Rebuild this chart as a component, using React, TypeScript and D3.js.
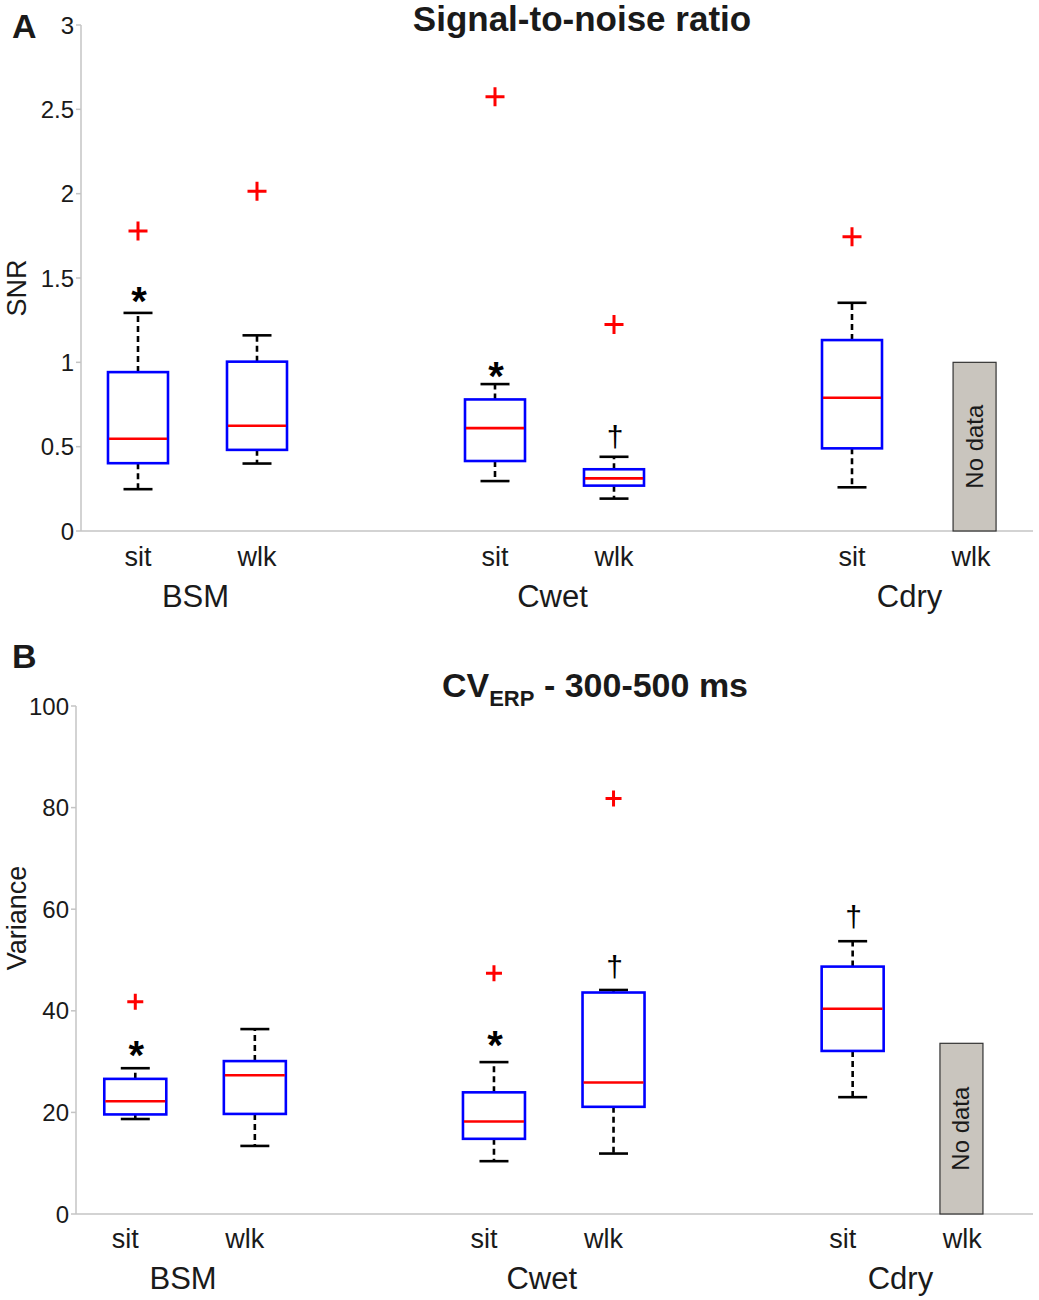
import React, { useEffect, useRef } from 'react';
import * as d3 from 'd3';

// x slots: 0,1 = BSM, 3,4 = Cwet, 6,7 = Cdry
const categories = ['sit', 'wlk', 'sit', 'wlk', 'sit', 'wlk'];
const categorySlots = [0, 1, 3, 4, 6, 7];
const groups = ['BSM', 'Cwet', 'Cdry'];
const groupSlots = [0.5, 3.5, 6.5];
const boxSlots = [0, 1, 3, 4, 6];

// Panel A - SNR
const snrLow = [0.248, 0.4, 0.296, 0.192, 0.259];
const snrQ1 = [0.402, 0.481, 0.415, 0.269, 0.49];
const snrMedian = [0.547, 0.624, 0.61, 0.312, 0.79];
const snrQ3 = [0.942, 1.004, 0.78, 0.366, 1.132];
const snrHigh = [1.293, 1.16, 0.871, 0.44, 1.353];
const snrOutliers = [1.778, 2.015, 2.574, 1.225, 1.745];
const snrMarks = ['*', '', '*', '†', ''];
const snrMarkValues = [1.41, 0, 0.966, 0.55, 0];
const snrNoData = 1.0;
const snrNoDataSlot = 7.03;
const snrTicks = [0, 0.5, 1, 1.5, 2, 2.5, 3];

// Panel B - CV ERP
const cvLow = [18.7, 13.4, 10.4, 11.9, 23.0];
const cvQ1 = [19.6, 19.7, 14.8, 21.1, 32.1];
const cvMedian = [22.2, 27.3, 18.2, 25.9, 40.4];
const cvQ3 = [26.6, 30.1, 23.95, 43.6, 48.7];
const cvHigh = [28.7, 36.4, 29.9, 44.1, 53.7];
const cvOutliers = [41.8, NaN, 47.4, 81.8, NaN];
const cvMarks = ['*', '', '*', '†', '†'];
const cvMarkValues = [32.8, 0, 34.9, 48.4, 58.3];
const cvNoData = 33.6;
const cvNoDataSlot = 6.91;
const cvTicks = [0, 20, 40, 60, 80, 100];

const FONT = 'Arial, "Liberation Sans", Helvetica, sans-serif';
const AXIS_GREY = '#c4c4c4';
const INK = '#1a1a1a';

interface PanelConfig {
  letter: string;
  letterY: number;
  title: (g: d3.Selection<SVGGElement, unknown, null, undefined>) => void;
  yLabel: string;
  yLabelY: number;
  axisX: number;
  axisRight: number;
  xRange: [number, number];
  yTop: number;
  yBottom: number;
  yMax: number;
  ticks: number[];
  low: number[]; q1: number[]; median: number[]; q3: number[]; high: number[];
  outliers: number[];
  marks: string[];
  markValues: number[];
  noData: number;
  noDataSlot: number;
  noDataWidth: number;
  boxWidth: number;
  capWidth: number;
  plusSize: number;
  catBaseline: number;
  groupBaseline: number;
  catOffset: number;
  groupOffset: number;
}

function drawPanel(svg: d3.Selection<SVGSVGElement, unknown, null, undefined>, c: PanelConfig) {
  const g = svg.append('g');
  const x = d3.scaleLinear().domain([-0.5, 7.5]).range(c.xRange);
  const y = d3.scaleLinear().domain([0, c.yMax]).range([c.yBottom, c.yTop]);

  // axes
  g.append('line')
    .attr('x1', c.axisX).attr('x2', c.axisX)
    .attr('y1', y(c.yMax)).attr('y2', y(0))
    .attr('stroke', AXIS_GREY).attr('stroke-width', 1.5);
  g.append('line')
    .attr('x1', c.axisX).attr('x2', c.axisRight)
    .attr('y1', y(0)).attr('y2', y(0))
    .attr('stroke', AXIS_GREY).attr('stroke-width', 1.5);

  const ticks = g.selectAll('.tick').data(c.ticks).enter().append('g').attr('class', 'tick');
  ticks.append('line')
    .attr('x1', c.axisX - 5).attr('x2', c.axisX)
    .attr('y1', d => y(d)).attr('y2', d => y(d))
    .attr('stroke', AXIS_GREY).attr('stroke-width', 1.5);
  ticks.append('text')
    .attr('x', c.axisX - 7)
    .attr('y', d => y(d))
    .attr('dy', '0.36em')
    .attr('text-anchor', 'end')
    .style('font-size', '24px')
    .style('font-family', FONT)
    .style('fill', INK)
    .text(d => String(d));

  // y label
  g.append('text')
    .attr('transform', `translate(26,${c.yLabelY}) rotate(-90)`)
    .attr('text-anchor', 'middle')
    .style('font-size', '27px')
    .style('font-family', FONT)
    .style('fill', INK)
    .text(c.yLabel);

  // panel letter
  g.append('text')
    .attr('x', 12).attr('y', c.letterY)
    .style('font-size', '34px').style('font-weight', 'bold')
    .style('font-family', FONT).style('fill', INK)
    .text(c.letter);

  c.title(g);

  // category + group labels
  g.selectAll('.cat').data(categories).enter().append('text')
    .attr('x', (_, i) => x(categorySlots[i]) + c.catOffset)
    .attr('y', c.catBaseline)
    .attr('text-anchor', 'middle')
    .style('font-size', '27px').style('font-family', FONT).style('fill', INK)
    .text(d => d);
  g.selectAll('.grp').data(groups).enter().append('text')
    .attr('x', (_, i) => x(groupSlots[i]) + c.groupOffset)
    .attr('y', c.groupBaseline)
    .attr('text-anchor', 'middle')
    .style('font-size', '31px').style('font-family', FONT).style('fill', INK)
    .text(d => d);

  // boxes
  const boxes = g.selectAll('.box').data(boxSlots).enter().append('g').attr('class', 'box');
  const whisker = (sel: any, from: (i: number) => number, to: (i: number) => number) => {
    sel.append('line')
      .attr('x1', (d: number) => x(d)).attr('x2', (d: number) => x(d))
      .attr('y1', (_: number, i: number) => y(from(i)))
      .attr('y2', (_: number, i: number) => y(to(i)))
      .attr('stroke', '#000').attr('stroke-width', 2.6)
      .attr('stroke-dasharray', '6,4');
  };
  whisker(boxes, i => c.q3[i], i => c.high[i]);
  whisker(boxes, i => c.q1[i], i => c.low[i]);
  boxes.append('line')
    .attr('x1', d => x(d) - c.capWidth / 2).attr('x2', d => x(d) + c.capWidth / 2)
    .attr('y1', (_, i) => y(c.high[i])).attr('y2', (_, i) => y(c.high[i]))
    .attr('stroke', '#000').attr('stroke-width', 2.6);
  boxes.append('line')
    .attr('x1', d => x(d) - c.capWidth / 2).attr('x2', d => x(d) + c.capWidth / 2)
    .attr('y1', (_, i) => y(c.low[i])).attr('y2', (_, i) => y(c.low[i]))
    .attr('stroke', '#000').attr('stroke-width', 2.6);
  boxes.append('rect')
    .attr('x', d => x(d) - c.boxWidth / 2)
    .attr('width', c.boxWidth)
    .attr('y', (_, i) => y(c.q3[i]))
    .attr('height', (_, i) => y(c.q1[i]) - y(c.q3[i]))
    .attr('fill', '#fff')
    .attr('stroke', '#0000ff').attr('stroke-width', 2.6);
  boxes.append('line')
    .attr('x1', d => x(d) - c.boxWidth / 2 + 1).attr('x2', d => x(d) + c.boxWidth / 2 - 1)
    .attr('y1', (_, i) => y(c.median[i])).attr('y2', (_, i) => y(c.median[i]))
    .attr('stroke', '#ff0000').attr('stroke-width', 2.6);

  // outliers
  const h = c.plusSize / 2;
  boxes.filter((_, i) => !isNaN(c.outliers[i]))
    .append('path')
    .attr('d', d => {
      const i = boxSlots.indexOf(d);
      const cx = x(d), cy = y(c.outliers[i]);
      return `M${cx - h},${cy}H${cx + h}M${cx},${cy - h}V${cy + h}`;
    })
    .attr('stroke', '#ff0000').attr('stroke-width', 3).attr('fill', 'none');

  // significance marks
  boxes.filter((_, i) => c.marks[i] !== '')
    .append('text')
    .attr('x', d => x(d) + 1)
    .attr('y', d => {
      const i = boxSlots.indexOf(d);
      const cy = y(c.markValues[i]);
      return c.marks[i] === '*' ? cy + 22 : cy + 9;
    })
    .attr('text-anchor', 'middle')
    .style('font-size', d => (c.marks[boxSlots.indexOf(d)] === '*' ? '40px' : '30px'))
    .style('font-family', FONT)
    .style('font-weight', d => (c.marks[boxSlots.indexOf(d)] === '*' ? 'bold' : 'normal'))
    .style('fill', '#000')
    .text(d => c.marks[boxSlots.indexOf(d)]);

  // no data bar
  const nx = x(c.noDataSlot);
  g.append('rect')
    .attr('x', nx - c.noDataWidth / 2).attr('width', c.noDataWidth)
    .attr('y', y(c.noData)).attr('height', y(0) - y(c.noData))
    .attr('fill', '#c9c5be').attr('stroke', '#333').attr('stroke-width', 1.2);
  g.append('text')
    .attr('transform', `translate(${nx + 8},${(y(c.noData) + y(0)) / 2}) rotate(-90)`)
    .attr('text-anchor', 'middle')
    .style('font-size', '24px').style('font-family', FONT).style('fill', INK)
    .text('No data');
}

const App: React.FC = () => {
  const svgRef = useRef<SVGSVGElement | null>(null);

  useEffect(() => {
    if (!svgRef.current) return;
    const svg = d3.select(svgRef.current);
    svg.selectAll('*').remove();

    const common = {
      axisRight: 1033,
      noDataWidth: 43,
      capWidth: 29,
    };

    drawPanel(svg, {
      ...common,
      letter: 'A', letterY: 38,
      title: (g) => {
        g.append('text')
          .attr('x', 582).attr('y', 31)
          .attr('text-anchor', 'middle')
          .style('font-size', '35px').style('font-weight', 'bold')
          .style('font-family', FONT).style('fill', INK)
          .text('Signal-to-noise ratio');
      },
      yLabel: 'SNR', yLabelY: 288,
      axisX: 81, xRange: [78.5, 1030.5],
      yTop: 25, yBottom: 531, yMax: 3, ticks: snrTicks,
      low: snrLow, q1: snrQ1, median: snrMedian, q3: snrQ3, high: snrHigh,
      outliers: snrOutliers, marks: snrMarks, markValues: snrMarkValues,
      noData: snrNoData, noDataSlot: snrNoDataSlot,
      boxWidth: 60, plusSize: 19,
      catBaseline: 566, groupBaseline: 607, catOffset: 0, groupOffset: -2,
    });

    drawPanel(svg, {
      ...common,
      letter: 'B', letterY: 668,
      title: (g) => {
        const t = g.append('text')
          .attr('x', 595).attr('y', 697)
          .attr('text-anchor', 'middle')
          .style('font-size', '34px').style('font-weight', 'bold')
          .style('font-family', FONT).style('fill', INK);
        t.append('tspan').text('CV');
        t.append('tspan').attr('dy', 9).style('font-size', '22px').text('ERP');
        t.append('tspan').attr('dy', -9).text(' - 300-500 ms');
      },
      yLabel: 'Variance', yLabelY: 918,
      axisX: 76, xRange: [75.5, 1032],
      yTop: 706, yBottom: 1214, yMax: 100, ticks: cvTicks,
      low: cvLow, q1: cvQ1, median: cvMedian, q3: cvQ3, high: cvHigh,
      outliers: cvOutliers, marks: cvMarks, markValues: cvMarkValues,
      noData: cvNoData, noDataSlot: cvNoDataSlot,
      boxWidth: 62, plusSize: 16,
      catBaseline: 1248, groupBaseline: 1289, catOffset: -10, groupOffset: -12,
    });
  }, []);

  return (
    <svg
      ref={svgRef}
      width={1039}
      height={1300}
      style={{ position: 'absolute', left: 0, top: 0, background: '#fff' }}
    />
  );
};

export default App;
